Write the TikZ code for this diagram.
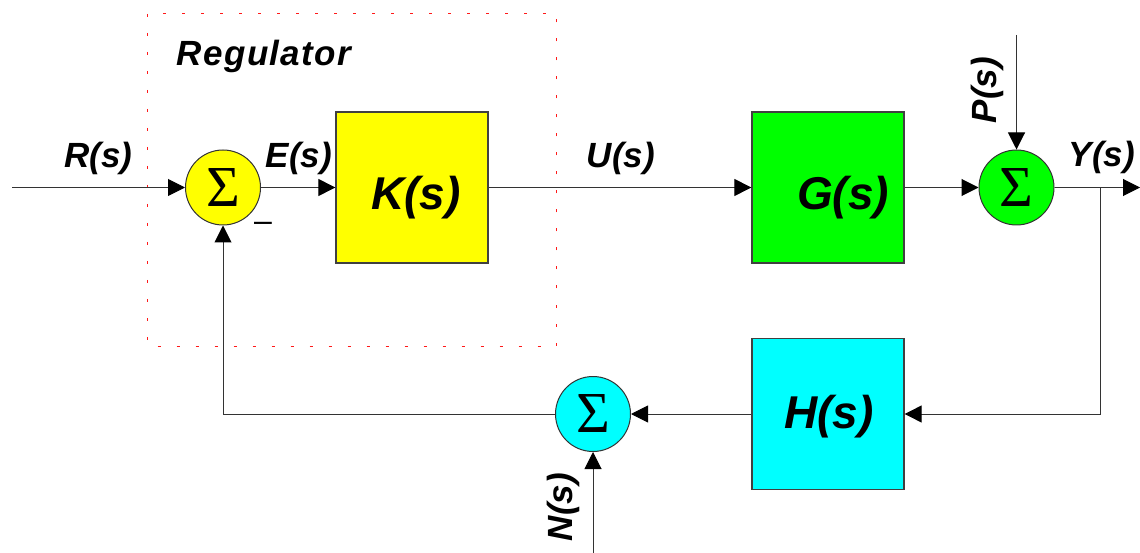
\documentclass[tikz,border=0pt]{standalone}
\usepackage{fontspec}
\setmainfont{Liberation Sans}
\newfontfamily\sigmafont{Liberation Serif}
\usetikzlibrary{arrows.meta}
\definecolor{bylw}{RGB}{255,255,0}
\definecolor{bgrn}{RGB}{0,255,0}
\definecolor{bcyn}{RGB}{0,255,255}
\tikzset{
  x=1pt, y=-1pt,
  wire/.style={draw=black!80, line width=1pt},
  arr/.style={wire, -{Triangle[length=17pt,width=17pt,color=black,fill=black]}},
  blockbox/.style={draw=black!75, line width=1.3pt, minimum width=152pt, minimum height=151pt, inner sep=0pt},
  sumnode/.style={circle, draw=black!80, line width=1pt, minimum size=75pt, inner sep=0pt, font=\sigmafont\fontsize{58}{58}\selectfont},
  sig/.style={font=\bfseries\itshape\fontsize{35}{35}\selectfont, inner sep=0pt, anchor=base},
  blocklabel/.style={font=\bfseries\itshape\fontsize{46}{46}\selectfont, inner sep=0pt, anchor=base},
  regbox/.style={draw=red!90, line width=1pt, dash pattern=on 3pt off 16pt},
}
\begin{document}
\begin{tikzpicture}
\useasboundingbox (0,0) rectangle (1140,553);
% regulator frame
\draw[regbox] (147.5,14) rectangle (556,346);
\node[sig, font=\bfseries\itshape\fontsize{35}{35}\selectfont\addfontfeature{LetterSpace=4}] (reg) at (264,66) {Regulator};
% blocks
\node[blockbox, fill=bylw] (K) at (412,187.5) {};
\node[blockbox, fill=bgrn] (G) at (828,187.5) {};
\node[blockbox, fill=bcyn] (H) at (828,414) {};
\node[blocklabel] (Kt) at (416,210) {K(s)};
\node[blocklabel] (Gt) at (843,210) {G(s)};
\node[blocklabel] (Ht) at (829,428) {H(s)};
% summing junctions
\node[sumnode, fill=bylw] (s1) at (223,187.5) {\raisebox{-2pt}{Σ}};
\node[sumnode, fill=bgrn] (s2) at (1016.5,187.5) {\raisebox{-2pt}{Σ}};
\node[sumnode, fill=bcyn] (s3) at (593,414) {\raisebox{-2pt}{Σ}};
% free ends
\coordinate (in) at (12,187.5);
\coordinate (out) at (1140,187.5);
\coordinate (br) at (1100,187.5);
\coordinate (ptop) at (1016.5,35);
\coordinate (nbot) at (593,553);
% connectors
\draw[arr] (in) -- (s1);
\draw[arr] (s1) -- (K);
\draw[arr] (K) -- (G);
\draw[arr] (G) -- (s2);
\draw[arr] (ptop) -- (s2);
\draw[arr] (s2) -- (out);
\draw[arr] (br) |- (H.east);
\draw[arr] (H) -- (s3);
\draw[arr] (s3.west) -| (s1.south);
\draw[arr] (nbot) -- (s3);
% signal labels
\node[sig] (R) at (98.5,168) {R(s)};
\node[sig] (E) at (299,168) {E(s)};
\node[sig] (U) at (621,168) {U(s)};
\node[sig] (Y) at (1102,167) {Y(s)};
\node[sig, rotate=90] (P) at (996,90) {P(s)};
\node[sig, rotate=90] (N) at (572.5,507) {N(s)};
\node[font=\fontsize{32}{32}\selectfont, inner sep=0pt] (minus) at (263,227) {–};
\end{tikzpicture}
\end{document}
